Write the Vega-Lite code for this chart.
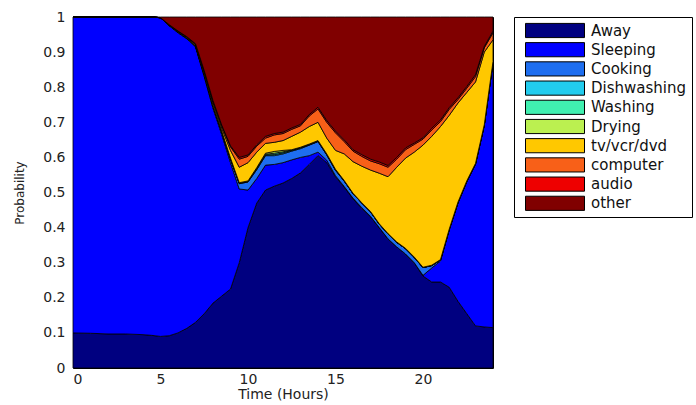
{
  "$schema": "https://vega.github.io/schema/vega-lite/v6.json",
  "autosize": {"type": "none"},
  "padding": {"left": 73, "top": 17, "right": 203, "bottom": 37},
  "width": 420,
  "height": 351,
  "background": "white",
  "data": {"values": [
    {"t": 0, "Away": 0.100, "Sleeping": 0.900, "Cooking": 0, "Dishwashing": 0, "Washing": 0, "Drying": 0, "tv/vcr/dvd": 0, "computer": 0, "audio": 0, "other": 0},
    {"t": 1, "Away": 0.099, "Sleeping": 0.901, "Cooking": 0, "Dishwashing": 0, "Washing": 0, "Drying": 0, "tv/vcr/dvd": 0, "computer": 0, "audio": 0, "other": 0},
    {"t": 2, "Away": 0.097, "Sleeping": 0.903, "Cooking": 0, "Dishwashing": 0, "Washing": 0, "Drying": 0, "tv/vcr/dvd": 0, "computer": 0, "audio": 0, "other": 0},
    {"t": 3, "Away": 0.097, "Sleeping": 0.903, "Cooking": 0, "Dishwashing": 0, "Washing": 0, "Drying": 0, "tv/vcr/dvd": 0, "computer": 0, "audio": 0, "other": 0},
    {"t": 4, "Away": 0.095, "Sleeping": 0.905, "Cooking": 0, "Dishwashing": 0, "Washing": 0, "Drying": 0, "tv/vcr/dvd": 0, "computer": 0, "audio": 0, "other": 0},
    {"t": 4.5, "Away": 0.093, "Sleeping": 0.907, "Cooking": 0, "Dishwashing": 0, "Washing": 0, "Drying": 0, "tv/vcr/dvd": 0, "computer": 0, "audio": 0, "other": 0},
    {"t": 5, "Away": 0.090, "Sleeping": 0.908, "Cooking": 0, "Dishwashing": 0, "Washing": 0, "Drying": 0, "tv/vcr/dvd": 0, "computer": 0, "audio": 0, "other": 0.002},
    {"t": 5.5, "Away": 0.092, "Sleeping": 0.883, "Cooking": 0.001, "Dishwashing": 0, "Washing": 0, "Drying": 0, "tv/vcr/dvd": 0.001, "computer": 0.001, "audio": 0, "other": 0.022},
    {"t": 6, "Away": 0.100, "Sleeping": 0.855, "Cooking": 0.002, "Dishwashing": 0, "Washing": 0, "Drying": 0, "tv/vcr/dvd": 0.002, "computer": 0.001, "audio": 0, "other": 0.040},
    {"t": 6.5, "Away": 0.113, "Sleeping": 0.825, "Cooking": 0.002, "Dishwashing": 0, "Washing": 0, "Drying": 0, "tv/vcr/dvd": 0.002, "computer": 0.002, "audio": 0, "other": 0.056},
    {"t": 7, "Away": 0.130, "Sleeping": 0.785, "Cooking": 0.003, "Dishwashing": 0, "Washing": 0, "Drying": 0, "tv/vcr/dvd": 0.003, "computer": 0.002, "audio": 0.001, "other": 0.076},
    {"t": 7.5, "Away": 0.155, "Sleeping": 0.675, "Cooking": 0.005, "Dishwashing": 0.001, "Washing": 0, "Drying": 0, "tv/vcr/dvd": 0.006, "computer": 0.004, "audio": 0.001, "other": 0.153},
    {"t": 8, "Away": 0.185, "Sleeping": 0.555, "Cooking": 0.006, "Dishwashing": 0.001, "Washing": 0.001, "Drying": 0, "tv/vcr/dvd": 0.007, "computer": 0.005, "audio": 0.002, "other": 0.238},
    {"t": 8.5, "Away": 0.205, "Sleeping": 0.460, "Cooking": 0.007, "Dishwashing": 0.001, "Washing": 0.001, "Drying": 0.001, "tv/vcr/dvd": 0.008, "computer": 0.007, "audio": 0.002, "other": 0.308},
    {"t": 9, "Away": 0.225, "Sleeping": 0.360, "Cooking": 0.010, "Dishwashing": 0.001, "Washing": 0.001, "Drying": 0.001, "tv/vcr/dvd": 0.022, "computer": 0.010, "audio": 0.003, "other": 0.367},
    {"t": 9.5, "Away": 0.300, "Sleeping": 0.210, "Cooking": 0.015, "Dishwashing": 0.001, "Washing": 0.001, "Drying": 0.001, "tv/vcr/dvd": 0.044, "computer": 0.023, "audio": 0.005, "other": 0.400},
    {"t": 10, "Away": 0.400, "Sleeping": 0.107, "Cooking": 0.023, "Dishwashing": 0.001, "Washing": 0.001, "Drying": 0.001, "tv/vcr/dvd": 0.052, "computer": 0.018, "audio": 0.004, "other": 0.393},
    {"t": 10.5, "Away": 0.470, "Sleeping": 0.070, "Cooking": 0.025, "Dishwashing": 0.002, "Washing": 0.002, "Drying": 0.002, "tv/vcr/dvd": 0.044, "computer": 0.017, "audio": 0.004, "other": 0.364},
    {"t": 11, "Away": 0.507, "Sleeping": 0.071, "Cooking": 0.027, "Dishwashing": 0.002, "Washing": 0.002, "Drying": 0.003, "tv/vcr/dvd": 0.028, "computer": 0.015, "audio": 0.005, "other": 0.340},
    {"t": 11.5, "Away": 0.518, "Sleeping": 0.062, "Cooking": 0.025, "Dishwashing": 0.003, "Washing": 0.004, "Drying": 0.005, "tv/vcr/dvd": 0.026, "computer": 0.021, "audio": 0.004, "other": 0.332},
    {"t": 12, "Away": 0.527, "Sleeping": 0.058, "Cooking": 0.025, "Dishwashing": 0.003, "Washing": 0.003, "Drying": 0.004, "tv/vcr/dvd": 0.028, "computer": 0.020, "audio": 0.004, "other": 0.328},
    {"t": 12.5, "Away": 0.540, "Sleeping": 0.053, "Cooking": 0.025, "Dishwashing": 0.002, "Washing": 0.001, "Drying": 0.001, "tv/vcr/dvd": 0.038, "computer": 0.020, "audio": 0.004, "other": 0.316},
    {"t": 13, "Away": 0.556, "Sleeping": 0.044, "Cooking": 0.025, "Dishwashing": 0.002, "Washing": 0.001, "Drying": 0.001, "tv/vcr/dvd": 0.043, "computer": 0.018, "audio": 0.004, "other": 0.306},
    {"t": 13.5, "Away": 0.580, "Sleeping": 0.025, "Cooking": 0.030, "Dishwashing": 0.001, "Washing": 0.001, "Drying": 0.001, "tv/vcr/dvd": 0.050, "computer": 0.030, "audio": 0.004, "other": 0.278},
    {"t": 14, "Away": 0.605, "Sleeping": 0.010, "Cooking": 0.030, "Dishwashing": 0.001, "Washing": 0.001, "Drying": 0.001, "tv/vcr/dvd": 0.052, "computer": 0.038, "audio": 0.005, "other": 0.257},
    {"t": 14.5, "Away": 0.585, "Sleeping": 0.007, "Cooking": 0.015, "Dishwashing": 0.001, "Washing": 0.001, "Drying": 0.001, "tv/vcr/dvd": 0.045, "computer": 0.045, "audio": 0.005, "other": 0.295},
    {"t": 15, "Away": 0.545, "Sleeping": 0.003, "Cooking": 0.015, "Dishwashing": 0.001, "Washing": 0.001, "Drying": 0.001, "tv/vcr/dvd": 0.054, "computer": 0.050, "audio": 0.005, "other": 0.325},
    {"t": 15.5, "Away": 0.515, "Sleeping": 0.002, "Cooking": 0.015, "Dishwashing": 0.001, "Washing": 0, "Drying": 0.001, "tv/vcr/dvd": 0.076, "computer": 0.035, "audio": 0.005, "other": 0.350},
    {"t": 16, "Away": 0.482, "Sleeping": 0.002, "Cooking": 0.013, "Dishwashing": 0, "Washing": 0, "Drying": 0.001, "tv/vcr/dvd": 0.090, "computer": 0.030, "audio": 0.004, "other": 0.378},
    {"t": 16.5, "Away": 0.455, "Sleeping": 0.002, "Cooking": 0.013, "Dishwashing": 0, "Washing": 0, "Drying": 0.001, "tv/vcr/dvd": 0.104, "computer": 0.028, "audio": 0.005, "other": 0.392},
    {"t": 17, "Away": 0.431, "Sleeping": 0.001, "Cooking": 0.013, "Dishwashing": 0, "Washing": 0, "Drying": 0.001, "tv/vcr/dvd": 0.118, "computer": 0.026, "audio": 0.005, "other": 0.405},
    {"t": 17.5, "Away": 0.400, "Sleeping": 0, "Cooking": 0.010, "Dishwashing": 0, "Washing": 0, "Drying": 0.001, "tv/vcr/dvd": 0.144, "computer": 0.027, "audio": 0.005, "other": 0.413},
    {"t": 18, "Away": 0.368, "Sleeping": 0, "Cooking": 0.014, "Dishwashing": 0, "Washing": 0, "Drying": 0.001, "tv/vcr/dvd": 0.162, "computer": 0.027, "audio": 0.005, "other": 0.423},
    {"t": 18.5, "Away": 0.345, "Sleeping": 0, "Cooking": 0.013, "Dishwashing": 0, "Washing": 0, "Drying": 0.001, "tv/vcr/dvd": 0.213, "computer": 0.023, "audio": 0.005, "other": 0.400},
    {"t": 19, "Away": 0.325, "Sleeping": 0, "Cooking": 0.015, "Dishwashing": 0, "Washing": 0, "Drying": 0.001, "tv/vcr/dvd": 0.257, "computer": 0.024, "audio": 0.005, "other": 0.373},
    {"t": 19.5, "Away": 0.300, "Sleeping": 0, "Cooking": 0.015, "Dishwashing": 0, "Washing": 0, "Drying": 0.001, "tv/vcr/dvd": 0.299, "computer": 0.022, "audio": 0.004, "other": 0.359},
    {"t": 20, "Away": 0.262, "Sleeping": 0.002, "Cooking": 0.022, "Dishwashing": 0, "Washing": 0, "Drying": 0.001, "tv/vcr/dvd": 0.348, "computer": 0.017, "audio": 0.004, "other": 0.344},
    {"t": 20.5, "Away": 0.245, "Sleeping": 0.040, "Cooking": 0.007, "Dishwashing": 0, "Washing": 0, "Drying": 0.001, "tv/vcr/dvd": 0.367, "computer": 0.018, "audio": 0.005, "other": 0.317},
    {"t": 21, "Away": 0.245, "Sleeping": 0.060, "Cooking": 0.003, "Dishwashing": 0, "Washing": 0, "Drying": 0.001, "tv/vcr/dvd": 0.379, "computer": 0.014, "audio": 0.005, "other": 0.293},
    {"t": 21.5, "Away": 0.230, "Sleeping": 0.163, "Cooking": 0.002, "Dishwashing": 0, "Washing": 0, "Drying": 0.001, "tv/vcr/dvd": 0.324, "computer": 0.017, "audio": 0.005, "other": 0.258},
    {"t": 22, "Away": 0.190, "Sleeping": 0.280, "Cooking": 0.002, "Dishwashing": 0, "Washing": 0, "Drying": 0.001, "tv/vcr/dvd": 0.282, "computer": 0.010, "audio": 0.005, "other": 0.230},
    {"t": 22.5, "Away": 0.155, "Sleeping": 0.375, "Cooking": 0.002, "Dishwashing": 0, "Washing": 0, "Drying": 0.001, "tv/vcr/dvd": 0.252, "computer": 0.012, "audio": 0.005, "other": 0.198},
    {"t": 23, "Away": 0.120, "Sleeping": 0.460, "Cooking": 0.002, "Dishwashing": 0, "Washing": 0, "Drying": 0.001, "tv/vcr/dvd": 0.232, "computer": 0.015, "audio": 0.006, "other": 0.164},
    {"t": 23.5, "Away": 0.117, "Sleeping": 0.573, "Cooking": 0.002, "Dishwashing": 0, "Washing": 0, "Drying": 0.001, "tv/vcr/dvd": 0.207, "computer": 0.012, "audio": 0.004, "other": 0.084},
    {"t": 24, "Away": 0.115, "Sleeping": 0.755, "Cooking": 0.002, "Dishwashing": 0, "Washing": 0, "Drying": 0.001, "tv/vcr/dvd": 0.062, "computer": 0.020, "audio": 0.005, "other": 0.040}
  ]},
  "transform": [
    {"fold": ["Away", "Sleeping", "Cooking", "Dishwashing", "Washing", "Drying", "tv/vcr/dvd", "computer", "audio", "other"], "as": ["activity", "p"]},
    {"lookup": "activity", "from": {"data": {"values": [
      {"activity": "Away", "idx": 0},
      {"activity": "Sleeping", "idx": 1},
      {"activity": "Cooking", "idx": 2},
      {"activity": "Dishwashing", "idx": 3},
      {"activity": "Washing", "idx": 4},
      {"activity": "Drying", "idx": 5},
      {"activity": "tv/vcr/dvd", "idx": 6},
      {"activity": "computer", "idx": 7},
      {"activity": "audio", "idx": 8},
      {"activity": "other", "idx": 9}
    ]}, "key": "activity", "fields": ["idx"]}}
  ],
  "mark": {"type": "area", "stroke": "black", "strokeWidth": 0.8, "interpolate": "linear"},
  "encoding": {
    "x": {
      "field": "t", "type": "quantitative",
      "scale": {"domain": [0, 24], "nice": false},
      "axis": {"values": [0, 5, 10, 15, 20], "title": "Time (Hours)", "grid": false, "domain": false, "ticks": false,
        "labelPadding": 4, "labelFont": "DejaVu Sans", "labelFontSize": 14, "labelColor": "#222",
        "titleFont": "DejaVu Sans", "titleFontSize": 14, "titleFontWeight": "normal", "titleColor": "#222", "titlePadding": 1}
    },
    "y": {
      "field": "p", "type": "quantitative", "stack": "zero",
      "scale": {"domain": [0, 1], "nice": false},
      "axis": {"values": [0, 0.1, 0.2, 0.3, 0.4, 0.5, 0.6, 0.7, 0.8, 0.9, 1], "format": "~g", "title": "Probability", "grid": false, "domain": false, "ticks": false,
        "labelPadding": 8, "labelFont": "DejaVu Sans", "labelFontSize": 14, "labelColor": "#222",
        "titleFont": "DejaVu Sans", "titleFontSize": 12, "titleFontWeight": "normal", "titleColor": "#222", "titlePadding": 16}
    },
    "color": {
      "field": "activity", "type": "nominal",
      "scale": {
        "domain": ["Away", "Sleeping", "Cooking", "Dishwashing", "Washing", "Drying", "tv/vcr/dvd", "computer", "audio", "other"],
        "range": ["#000080", "#0000FF", "#1E6EF0", "#22CCEE", "#40F0B0", "#BBF050", "#FFC800", "#F86018", "#EE0000", "#800000"]
      },
      "legend": {
        "title": null, "orient": "none", "legendX": 441, "legendY": 0,
        "symbolType": "M-1,-0.24H1V0.24H-1Z", "symbolSize": 3481, "symbolStrokeColor": "black", "symbolStrokeWidth": 1, "symbolOpacity": 1,
        "symbolOffset": 6, "labelOffset": 6, "clipHeight": 17, "rowPadding": 2.2, "padding": 5,
        "labelFont": "DejaVu Sans", "labelFontSize": 15, "labelColor": "#111", "labelLimit": 200,
        "strokeColor": "black", "fillColor": "white"
      }
    },
    "order": {"field": "idx", "type": "quantitative", "sort": "ascending"}
  },
  "config": {"view": {"stroke": "black", "strokeWidth": 1}}
}
